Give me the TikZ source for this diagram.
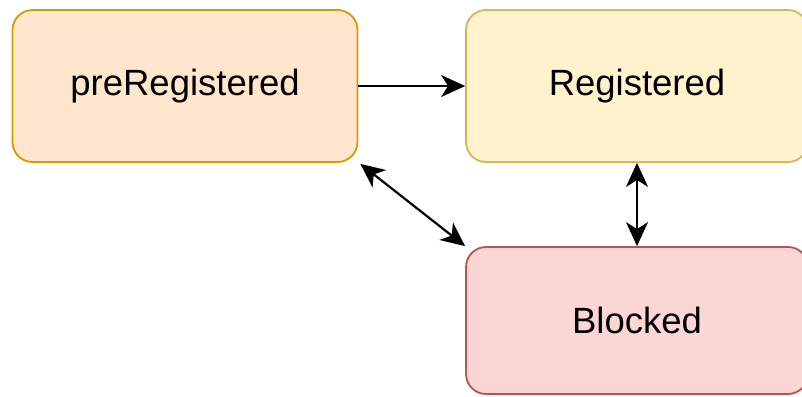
\documentclass[tikz,border=0pt]{standalone}
\usepackage{fontspec}
\setmainfont{Liberation Sans}
\usetikzlibrary{arrows.meta}
\definecolor{orfill}{HTML}{FFE6CC}
\definecolor{ordraw}{HTML}{D79B00}
\definecolor{yefill}{HTML}{FFF2CC}
\definecolor{yedraw}{HTML}{D6B656}
\definecolor{rdfill}{HTML}{FAD7D4}
\definecolor{rddraw}{HTML}{B85450}
\tikzset{
  state/.style={rectangle, rounded corners=20pt, line width=1.8pt, minimum width=345pt, minimum height=152pt, inner sep=0pt, font=\fontsize{36.5}{43}\selectfont, text=black},
  conn/.style={line width=2.2pt, draw=black, -{Stealth[length=24pt,width=22pt,inset=7pt]}},
  conn2/.style={line width=2.2pt, draw=black, {Stealth[length=24pt,width=22pt,inset=7pt]}-{Stealth[length=24pt,width=22pt,inset=7pt]}},
}
\begin{document}
\begin{tikzpicture}[x=1pt,y=-1pt]
\useasboundingbox (0,0) rectangle (802,396);
\begin{scope}
\clip (0,0) rectangle (802,396);
\node[state, fill=orfill, draw=ordraw] (pre) at (185,86) {\raisebox{-2pt}{preRegistered}};
\node[state, fill=yefill, draw=yedraw, minimum width=342pt] (reg) at (637,86) {\raisebox{-2pt}{Registered}};
\node[state, fill=rdfill, draw=rddraw, minimum width=342pt, minimum height=147pt] (blk) at (637,320.5) {\raisebox{-2pt}{Blocked}};
\end{scope}
\draw[conn] (pre.east) -- (reg.west);
\draw[conn2] (reg.south) -- (blk.north);
\draw[conn2] ([shift={(2pt,-1pt)}]pre.south east) -- (blk.north west);
\end{tikzpicture}
\end{document}
